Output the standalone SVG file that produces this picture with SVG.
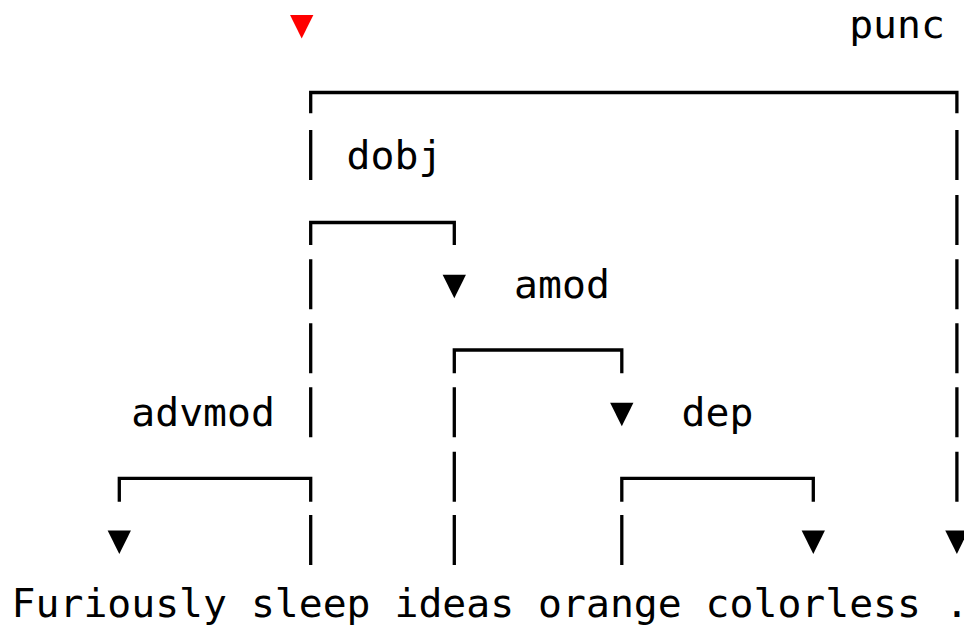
<svg xmlns="http://www.w3.org/2000/svg" xmlns:xlink="http://www.w3.org/1999/xlink" width="964" height="629" viewBox="0 0 964 629">
  <style>
    text { font-family: "DejaVu Sans Mono", "Liberation Mono", monospace; font-size: 39.75px; fill: #000; }
    .edge { fill: none; stroke: #000; stroke-width: 3.3; stroke-linecap: butt; stroke-linejoin: miter; }
    .head { fill: #000; }
    .root { fill: #ff0000; }
  </style>
  <defs>
    <!-- downward arrowhead, anchored at its top centre -->
    <path id="tri" d="M-11.65 0 H11.65 L0 23.6 Z"/>
  </defs>
  <rect width="964" height="629" fill="#fff"/>

  <!-- connectors: bracket arcs, stems and arrowheads -->
  <g id="connectors">
    <!-- root marker above "sleep" -->
    <use xlink:href="#tri" class="root" x="301.7" y="15"/>

    <!-- punc: sleep -> . -->
    <path class="edge" d="M310.7 113.3 V92.5 H956.9 V113.3"/>
    <path class="edge" d="M956.9 130 V180 M956.9 195 V245 M956.9 259.3 V309.3 M956.9 323.3 V373.3 M956.9 387.3 V437.3 M956.9 451.7 V501.7"/>
    <use xlink:href="#tri" class="head" x="956.9" y="530.4"/>

    <!-- stem of "sleep" -->
    <path class="edge" d="M310.7 130 V180 M310.7 259.3 V309.3 M310.7 323.3 V373.3 M310.7 387.3 V437.3 M310.7 515 V565"/>

    <!-- dobj: sleep -> ideas -->
    <path class="edge" d="M310.7 245 V222.5 H454.3 V245"/>
    <use xlink:href="#tri" class="head" x="454.3" y="274.7"/>

    <!-- amod: ideas -> orange -->
    <path class="edge" d="M454.3 373.3 V350 H621.8 V373.3"/>
    <use xlink:href="#tri" class="head" x="621.8" y="402.7"/>
    <!-- stem of "ideas" -->
    <path class="edge" d="M454.3 387.3 V437.3 M454.3 451.7 V501.7 M454.3 515 V565"/>

    <!-- advmod: sleep -> Furiously -->
    <path class="edge" d="M119.3 501.7 V478.3 H310.7 V501.7"/>
    <use xlink:href="#tri" class="head" x="119.3" y="530.4"/>

    <!-- dep: orange -> colorless -->
    <path class="edge" d="M621.8 501.7 V478.3 H813.3 V501.7"/>
    <use xlink:href="#tri" class="head" x="813.3" y="530.4"/>
    <!-- stem of "orange" -->
    <path class="edge" d="M621.8 515 V565"/>
  </g>

  <!-- relation labels -->
  <g id="labels">
    <text x="849.2" y="38.2">punc</text>
    <text x="346.6" y="168.7">dobj</text>
    <text x="514.1" y="298">amod</text>
    <text x="131.3" y="426">advmod</text>
    <text x="681.6" y="426">dep</text>
  </g>

  <!-- tokens -->
  <g id="w-furiously"><text x="11.6" y="616.7">Furiously</text></g>
  <g id="w-sleep"><text x="250.9" y="616.7">sleep</text></g>
  <g id="w-ideas"><text x="394.5" y="616.7">ideas</text></g>
  <g id="w-orange"><text x="538.1" y="616.7">orange</text></g>
  <g id="w-colorless"><text x="705.6" y="616.7">colorless</text></g>
  <g id="w-period"><text x="944.9" y="616.7">.</text></g>
</svg>
